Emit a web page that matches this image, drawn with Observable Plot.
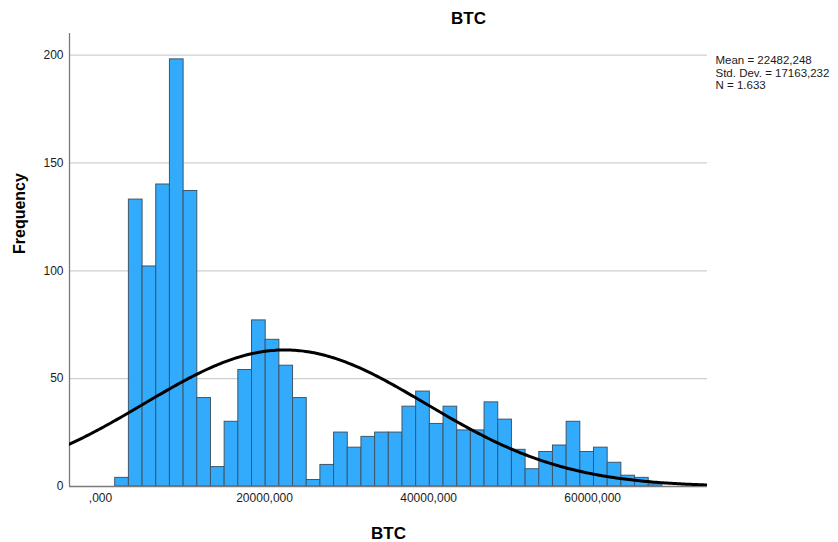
<!DOCTYPE html>
<html>
<head>
<meta charset="utf-8">
<script src="https://cdn.jsdelivr.net/npm/d3@7"></script>
<script src="https://cdn.jsdelivr.net/npm/@observablehq/plot@0.6"></script>
<style>
  html, body { margin: 0; padding: 0; background: #fff; }
  #chart { width: 838px; height: 542px; }
</style>
</head>
<body>
<div id="chart"></div>
<script>
// ---- data ----
const title = "BTC";
const xTitle = "BTC";
const yTitle = "Frequency";
const binStart = 1793;      // first bin lower edge
const binWidth = 1667.7;    // histogram bin width
const counts = [4, 133, 102, 140, 198, 137, 41, 9, 30, 54,
                77, 68, 56, 41, 3, 10, 25, 18, 23, 25,
                25, 37, 44, 29, 37, 26, 26, 39, 31, 17,
                8, 16, 19, 30, 16, 18, 11, 5, 4, 1];
const statMean = 22482.248;
const statSD = 17163.232;
const statN = 1633;
const statLines = ["Mean = 22482,248", "Std. Dev. = 17163,232", "N = 1.633"];
const xTicks = [0, 20000, 40000, 60000];
const xTickLabels = [",000", "20000,000", "40000,000", "60000,000"];
const yTicks = [0, 50, 100, 150, 200];
const yGrid = [50, 100, 150, 200];
const xDomain = [-3780, 74000];
const yDomain = [0, 210];

// ---- derived tables ----
const bins = counts.map((c, i) => ({
  x1: binStart + i * binWidth,
  x2: binStart + (i + 1) * binWidth,
  count: c
}));
// normal curve fitted by the displayed mean / std. dev. / N
const nSamples = 300;
const curve = d3.range(nSamples + 1).map(i => {
  const x = xDomain[0] + (xDomain[1] - xDomain[0]) * i / nSamples;
  const z = (x - statMean) / statSD;
  const y = statN * binWidth * Math.exp(-0.5 * z * z) / (statSD * Math.sqrt(2 * Math.PI));
  return {x, y};
});

const font = "'Liberation Sans', Arial, sans-serif";

const chart = Plot.plot({
  width: 838,
  height: 542,
  marginTop: 33,
  marginBottom: 56,
  marginLeft: 69,
  marginRight: 131,
  style: {fontFamily: font, background: "#fff", color: "#1a1a1a", overflow: "visible"},
  x: {domain: xDomain, axis: null},
  y: {domain: yDomain, axis: null},
  marks: [
    Plot.ruleY(yGrid, {stroke: "#cfcfcf", strokeWidth: 1.3}),
    Plot.rectY(bins, {x1: "x1", x2: "x2", y1: 0, y2: "count", fill: "#33abfd", stroke: "#3e5668", strokeWidth: 1, inset: 0}),
    Plot.ruleX([xDomain[0]], {stroke: "#7a7a7a", strokeWidth: 1.3}),
    Plot.ruleY([0], {stroke: "#7a7a7a", strokeWidth: 1.3}),
    Plot.line(curve, {x: "x", y: "y", stroke: "#000", strokeWidth: 3, curve: "linear", clip: true}),
    Plot.axisY({ticks: yTicks, tickSize: 0, tickPadding: 6, label: null, fontSize: 12, fill: "#1a1a1a"}),
    Plot.axisX({ticks: xTicks, tickSize: 0, tickPadding: 7, label: null, fontSize: 12, fill: "#1a1a1a",
                tickFormat: d => xTickLabels[xTicks.indexOf(d)]}),
    Plot.text([title], {frameAnchor: "top", dx: 80, dy: -15, fontSize: 17, fontWeight: "bold", lineAnchor: "middle", fill: "#000"}),
    Plot.text([xTitle], {frameAnchor: "bottom", dy: 47, fontSize: 17, fontWeight: "bold", lineAnchor: "middle", fill: "#000"}),
    Plot.text([yTitle], {frameAnchor: "left", dx: -50, dy: -6, rotate: -90, fontSize: 16, fontWeight: "bold", lineAnchor: "middle", fill: "#000"}),
    Plot.text([statLines.join("\n")], {frameAnchor: "top-right", dx: 8, dy: 22, textAnchor: "start", lineAnchor: "top", fontSize: 11.5, lineHeight: 1.08, fill: "#1a1a1a"})
  ]
});
document.getElementById("chart").appendChild(chart);
</script>
</body>
</html>
